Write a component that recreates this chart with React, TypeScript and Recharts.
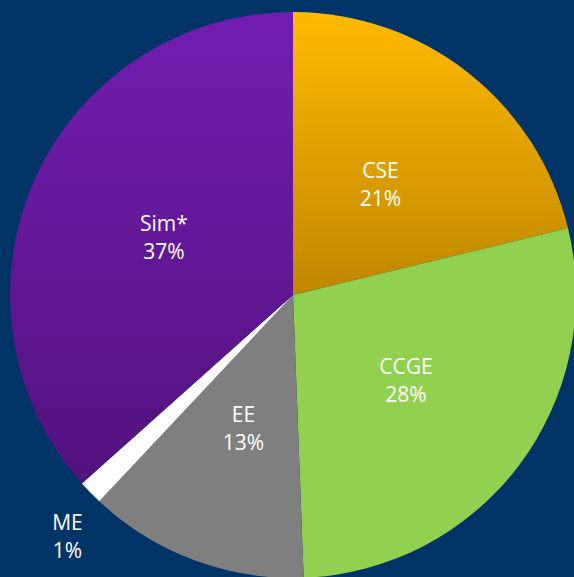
import { PieChart, Pie, Cell } from 'recharts';

// Share of simulation time by group (%)
const groups = ['CSE', 'CCGE', 'EE', 'ME', 'Sim*'];
const shares = [21.2, 28.2, 12.6, 1.4, 36.6];
const fills = ['url(#cseGrad)', '#92D050', '#7F7F7F', '#FFFFFF', 'url(#simGrad)'];

const data = groups.map((name, i) => ({ name, value: shares[i] }));

const RAD = Math.PI / 180;

const renderLabel = (props: any) => {
  const { cx, cy, midAngle, outerRadius, name, value } = props;
  const outside = name === 'ME';
  const r = outside ? outerRadius + 47 : outerRadius * 0.5;
  const ang = outside ? midAngle + 2.6 : midAngle;
  const x = cx + r * Math.cos(-ang * RAD);
  const y = cy + r * Math.sin(-ang * RAD);
  return (
    <text
      x={x}
      y={y}
      fill="#FFFFFF"
      textAnchor="middle"
      style={{ fontFamily: '"Open Sans", sans-serif', fontSize: 21 }}
    >
      <tspan x={x} y={y - 6}>{name}</tspan>
      <tspan x={x} y={y + 22}>{Math.round(value)}%</tspan>
    </text>
  );
};

export default function App() {
  return (
    <div style={{ position: 'absolute', left: 0, top: 0, width: 574, height: 577, background: '#003466', overflow: 'hidden' }}>
      <PieChart width={574} height={577} margin={{ top: 0, right: 0, bottom: 0, left: 0 }}>
        <defs>
          <linearGradient id="cseGrad" x1="0" y1="0" x2="0" y2="1">
            <stop offset="0%" stopColor="#FFBA00" />
            <stop offset="100%" stopColor="#BF8700" />
          </linearGradient>
          <linearGradient id="simGrad" x1="0" y1="0" x2="0" y2="1">
            <stop offset="0%" stopColor="#721DB0" />
            <stop offset="100%" stopColor="#52127E" />
          </linearGradient>
        </defs>
        <Pie
          data={data}
          dataKey="value"
          nameKey="name"
          cx={293}
          cy={295}
          outerRadius={283}
          startAngle={90}
          endAngle={-270}
          stroke="none"
          labelLine={false}
          label={renderLabel}
          isAnimationActive={false}
        >
          {data.map((d, i) => (
            <Cell key={d.name} fill={fills[i]} />
          ))}
        </Pie>
      </PieChart>
    </div>
  );
}
